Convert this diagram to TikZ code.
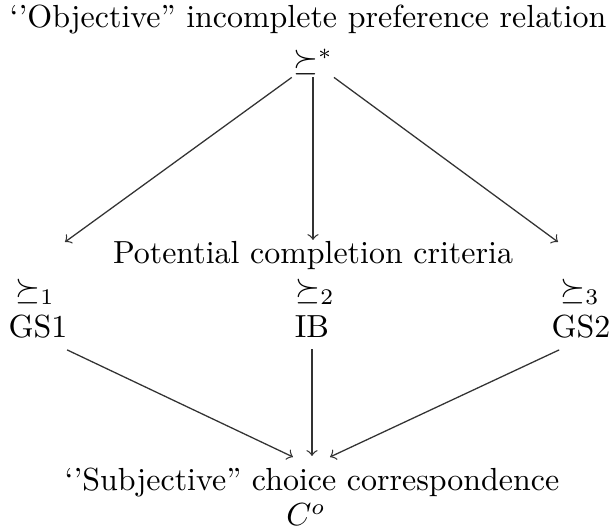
\documentclass[tikz,border=0pt]{standalone}
\usepackage{amssymb}
\usepackage{tikz}

\begin{document}
\begin{tikzpicture}[x=.011cm, y=-.011cm, font=\normalsize]
\useasboundingbox (0,0) rectangle (615,532);

\node (obj) at (308,20) {`'Objective'' incomplete preference relation};
\node[inner sep=.5pt] (star) at (313,62) {$\succeq^*$};

\node (crit) at (313,256) {Potential completion criteria};
\node (r1) at (35,292) {$\succeq_1$};
\node (g1) at (38,327) {GS1};
\node (r2) at (315,292) {$\succeq_2$};
\node (g2) at (312,327) {IB};
\node (r3) at (580,292) {$\succeq_3$};
\node (g3) at (581,327) {GS2};

\node (subj) at (312,483) {`'Subjective'' choice correspondence};
\node (co) at (306,515) {$C^o$};

\coordinate (e1) at (65,242);
\coordinate (e2) at (313,240);
\coordinate (e3) at (558,242);
\coordinate (f1) at (293,457);
\coordinate (f2) at (312,456);
\coordinate (f3) at (330,457);

\draw[->,draw=black!80] (star) -- (e1);
\draw[->,draw=black!80] (star.south) -- (star.south |- e2);
\draw[->,draw=black!80] (star) -- (e3);

\draw[->,draw=black!80] ([xshift=.32cm]g1.south) -- (f1);
\draw[->,draw=black!80] (g2.south) -- (f2);
\draw[->,draw=black!80] ([xshift=-.24cm]g3.south) -- (f3);

\end{tikzpicture}
\end{document}
